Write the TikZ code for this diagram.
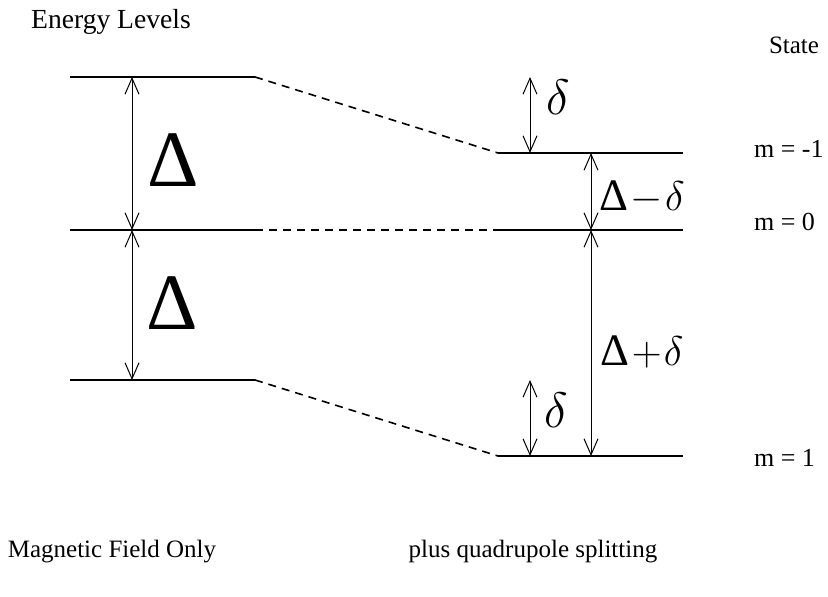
\documentclass[tikz,border=0pt]{standalone}
\usepackage{fontspec}
\setmainfont{Liberation Serif}
\usetikzlibrary{arrows.meta}

\tikzset{
  level/.style={line width=0.9pt},
  link/.style={line width=0.8pt, dash pattern=on 4pt off 3pt},
  gap/.style={line width=0.5pt,
    {Straight Barb[length=8pt,width=7pt]}-{Straight Barb[length=8pt,width=7pt]}},
  txt/.style={font=\fontsize{12.5}{15}\selectfont},
  statetxt/.style={font=\fontsize{13}{15}\selectfont, anchor=west},
  bigsym/.style={font=\fontsize{40}{46}\selectfont},
  midsym/.style={font=\fontsize{24}{28}\selectfont},
  sumsym/.style={font=\fontsize{22.5}{28}\selectfont}
}

\begin{document}
\begin{tikzpicture}[x=0.5pt,y=-0.5pt]

  \useasboundingbox (0,0) rectangle (828,597);

  % --- Level ends: left column (field only), right column (with splitting) ---
  \coordinate (LupA) at (70,77);   \coordinate (LupB) at (255,77);
  \coordinate (LmidA) at (70,230); \coordinate (LmidB) at (255,230);
  \coordinate (LdnA) at (70,380);  \coordinate (LdnB) at (255,380);
  \coordinate (RupA) at (498,153); \coordinate (RupB) at (683,153);
  \coordinate (RmidA) at (498,230);\coordinate (RmidB) at (683,230);
  \coordinate (RdnA) at (498,456); \coordinate (RdnB) at (683,456);

  % --- x positions of the gap arrows ---
  \coordinate (xL) at (132,0);
  \coordinate (xd) at (530,0);
  \coordinate (xs) at (591,0);

  % --- The levels themselves ---
  \draw[level] (LupA) -- (LupB);
  \draw[level] (LmidA) -- (LmidB);
  \draw[level] (LdnA) -- (LdnB);
  \draw[level] (RupA) -- (RupB);
  \draw[level] (RmidA) -- (RmidB);
  \draw[level] (RdnA) -- (RdnB);

  % --- Dashed links, left level -> shifted right level ---
  \draw[link] (LupB) -- (RupA);
  \draw[link] (LmidB) -- (RmidA);
  \draw[link] (LdnB) -- (RdnA);

  % --- Gap arrows ---
  \draw[gap] (xL |- LupA) -- (xL |- LmidA);
  \draw[gap] (xL |- LmidA) -- (xL |- LdnA);
  \draw[gap] (xd |- LupA) -- (xd |- RupA);
  \draw[gap] (xd |- LdnA) -- (xd |- RdnA);
  \draw[gap] (xs |- RupA) -- (xs |- RmidA);
  \draw[gap] (xs |- RmidA) -- (xs |- RdnA);

  % --- Gap labels ---
  \node[bigsym] (gapUp) at (173,160) {Δ};
  \node[bigsym] (gapDn) at (172,303) {Δ};
  \node[midsym] (dUp) at (558,97) {$\delta$};
  \node[midsym] (dDn) at (556,410) {$\delta$};
  \node[sumsym] (dMinus) at (642,197) {Δ$\mkern1mu{-}\mkern1mu\delta$};
  \node[sumsym] (dPlus) at (642,352) {Δ$\mkern1mu{+}\mkern1mu\delta$};

  % --- Titles and state names ---
  \node[txt, font=\fontsize{13.8}{16}\selectfont] (title) at (111,22) {Energy Levels};
  \node[txt] (state) at (794,45) {State};
  \node[statetxt] (mMinus) at (747,149) {m = -1};
  \node[statetxt] (mZero) at (747,222) {m = 0};
  \node[statetxt] (mPlus) at (747,458) {m = 1};
  \node[txt] (capL) at (112,552) {Magnetic Field Only};
  \node[txt] (capR) at (533,552) {plus quadrupole splitting};

\end{tikzpicture}
\end{document}
